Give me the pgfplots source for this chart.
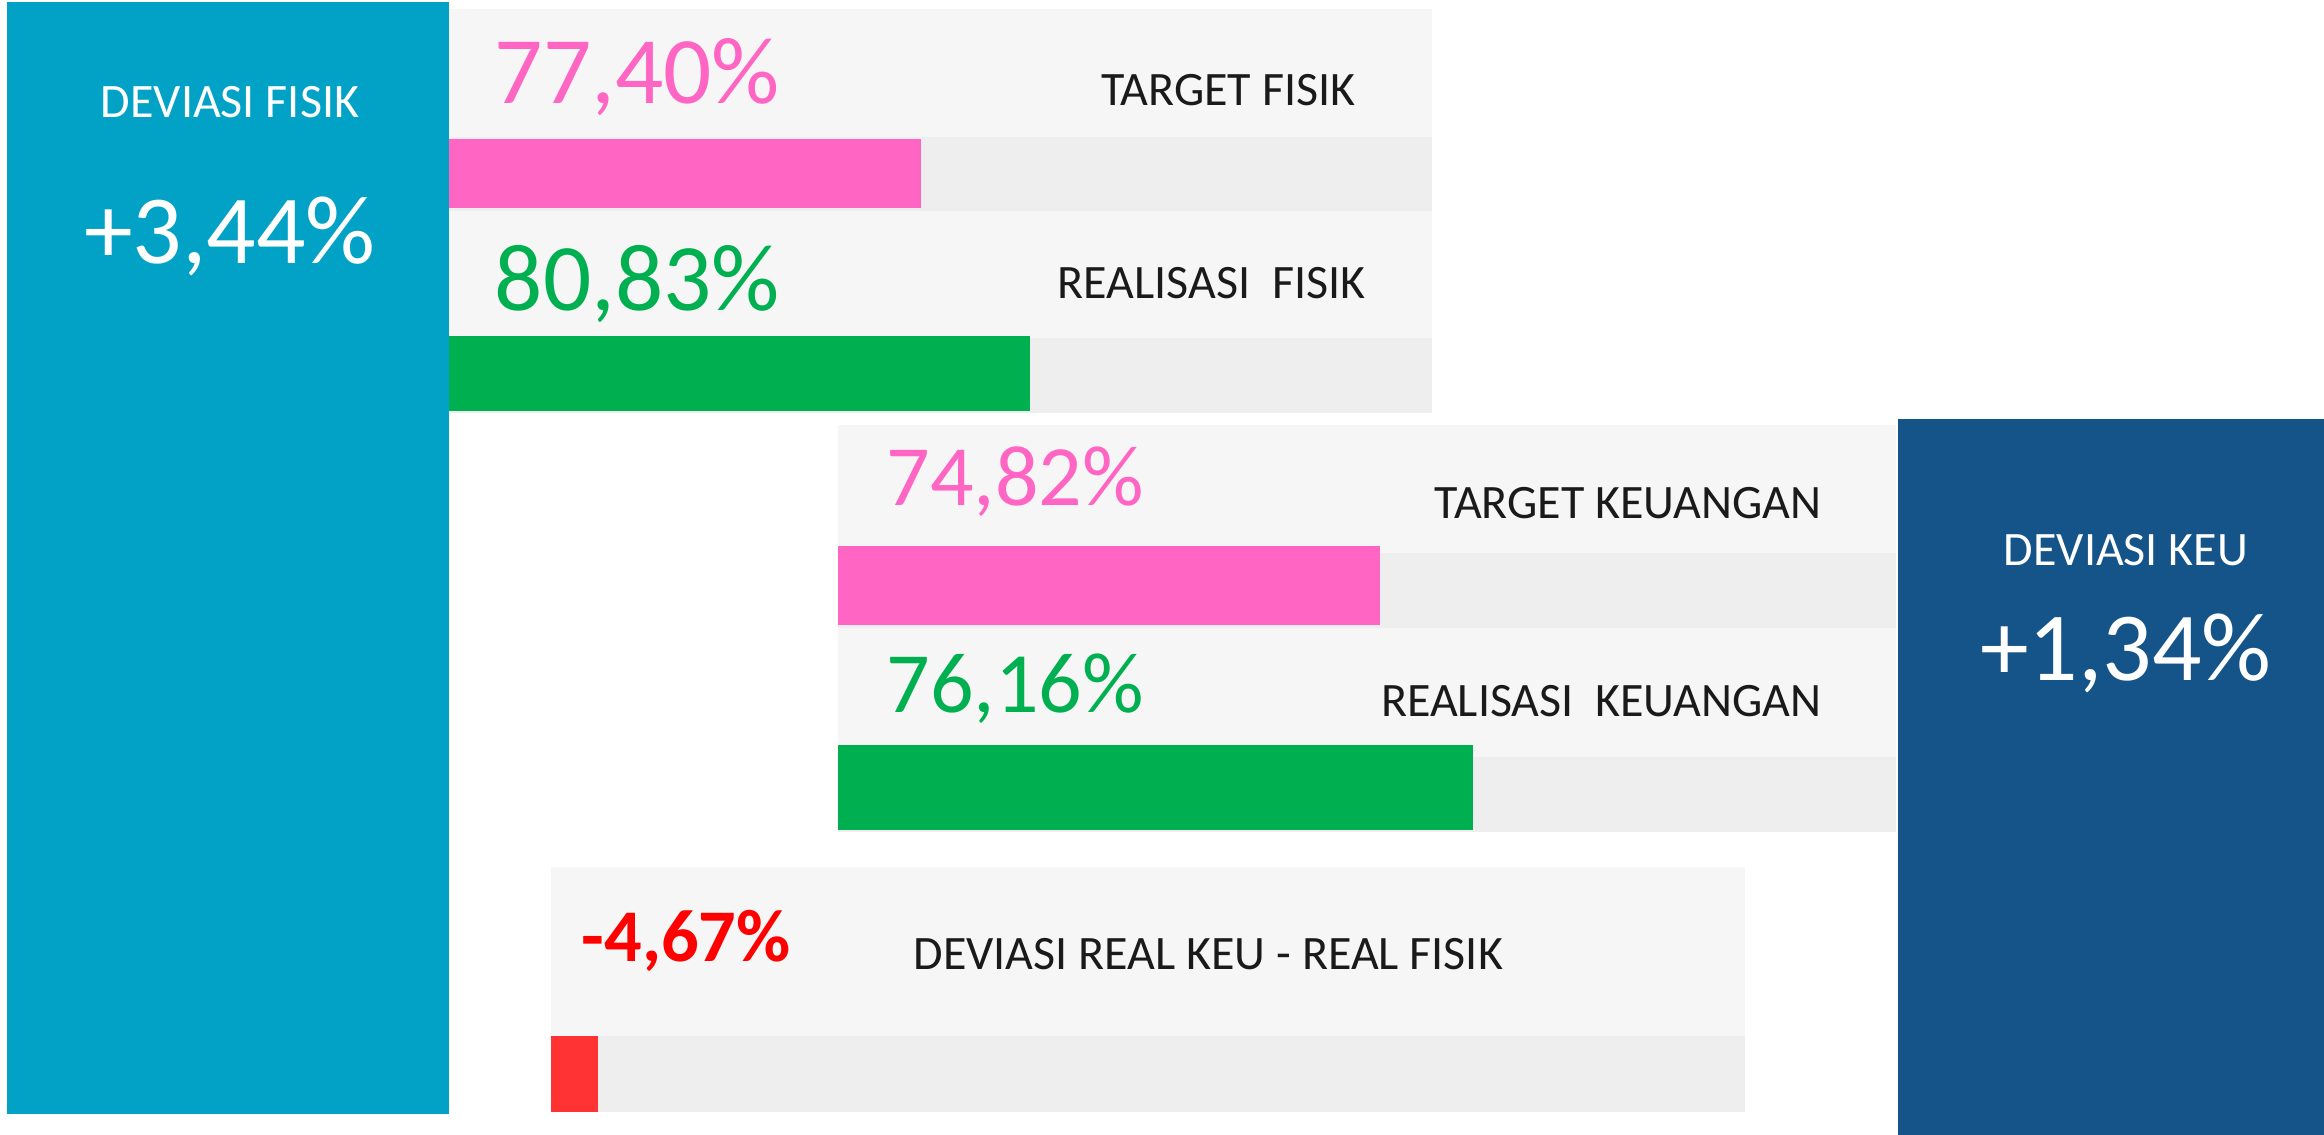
\documentclass[border=0pt]{standalone}
\usepackage{fontspec}
\setmainfont{Carlito}
\usepackage{pgfplots}
\pgfplotsset{compat=1.18}

\definecolor{cyanblk}{HTML}{02A2C7}
\definecolor{navyblk}{HTML}{155489}
\definecolor{pinkbar}{HTML}{FF66C4}
\definecolor{greenbar}{HTML}{00AF50}
\definecolor{redbar}{HTML}{FF3333}
\definecolor{panel}{HTML}{F6F6F6}
\definecolor{track}{HTML}{EEEEEE}
\definecolor{lbl}{HTML}{1A1A1A}

% rectangle in pixel coordinates of the reference: colour, x1, y1, x2, y2
\newcommand{\rect}[5]{\addplot[fill=#1, draw=none] coordinates {(#2,#3) (#4,#3) (#4,#5) (#2,#5)};}
\newcommand{\fbig}{\fontsize{29.3}{32}\selectfont}
\newcommand{\fnum}{\fontsize{28.6}{32}\selectfont}
\newcommand{\fmid}{\fontsize{25.8}{30}\selectfont}
\newcommand{\flab}{\fontsize{14.4}{16}\selectfont}

\begin{document}
\begin{tikzpicture}
\begin{axis}[
  width=697.2pt, height=340.5pt, scale only axis,
  xmin=0, xmax=2324, ymin=0, ymax=1135,
  y dir=reverse, hide axis, clip=false,
]
% background
\rect{white}{0}{0}{2324}{1135}

% panels: text area and track
\rect{panel}{449}{9}{1432}{137}
\rect{track}{449}{137}{1432}{211}
\rect{panel}{449}{211}{1432}{338}
\rect{track}{449}{338}{1432}{413}
\rect{panel}{838}{425}{1896}{553}
\rect{track}{838}{553}{1896}{628}
\rect{panel}{838}{628}{1896}{757}
\rect{track}{838}{757}{1896}{832}
\rect{panel}{551}{867}{1745}{1036}
\rect{track}{551}{1036}{1745}{1112}

% bars
\rect{pinkbar}{449}{139}{921}{208}
\rect{greenbar}{448}{336}{1030}{411}
\rect{pinkbar}{838}{546}{1380}{625}
\rect{greenbar}{838}{745}{1473}{830}
\rect{redbar}{551}{1036}{598}{1112}

% side blocks
\rect{cyanblk}{7}{2}{449}{1114}
\rect{navyblk}{1898}{419}{2324}{1135}

% texts
\node[anchor=base, text=white, font=\flab] at (axis cs:230,117) {DEVIASI FISIK};
\node[anchor=base, text=white, font=\fbig] at (axis cs:230,263) {+3,44\%};
\node[anchor=base, text=white, font=\flab] at (axis cs:2126,565) {DEVIASI KEU};
\node[anchor=base, text=white, font=\fbig] at (axis cs:2126,680) {+1,34\%};

\node[anchor=base west, text=pinkbar, font=\fnum, inner sep=0pt] at (axis cs:494,103) {77,40\%};
\node[anchor=base east, text=lbl, font=\flab, inner sep=0pt] at (axis cs:1356,105) {TARGET FISIK};
\node[anchor=base west, text=greenbar, font=\fnum, inner sep=0pt] at (axis cs:494,310) {80,83\%};
\node[anchor=base east, text=lbl, font=\flab, inner sep=0pt] at (axis cs:1366,298) {REALISASI\ \ FISIK};

\node[anchor=base west, text=pinkbar, font=\fmid, inner sep=0pt] at (axis cs:886,505) {74,82\%};
\node[anchor=base east, text=lbl, font=\flab, inner sep=0pt] at (axis cs:1822,518) {TARGET KEUANGAN};
\node[anchor=base west, text=greenbar, font=\fmid, inner sep=0pt] at (axis cs:886,712) {76,16\%};
\node[anchor=base east, text=lbl, font=\flab, inner sep=0pt] at (axis cs:1822,716) {REALISASI\ \ KEUANGAN};

\node[anchor=base west, text=red, font=\fontsize{22.3}{26}\selectfont\bfseries, inner sep=0pt] at (axis cs:581,961) {-4,67\%};
\node[anchor=base west, text=lbl, font=\flab, inner sep=0pt] at (axis cs:913,969) {DEVIASI REAL KEU - REAL FISIK};
\end{axis}
\end{tikzpicture}
\end{document}
